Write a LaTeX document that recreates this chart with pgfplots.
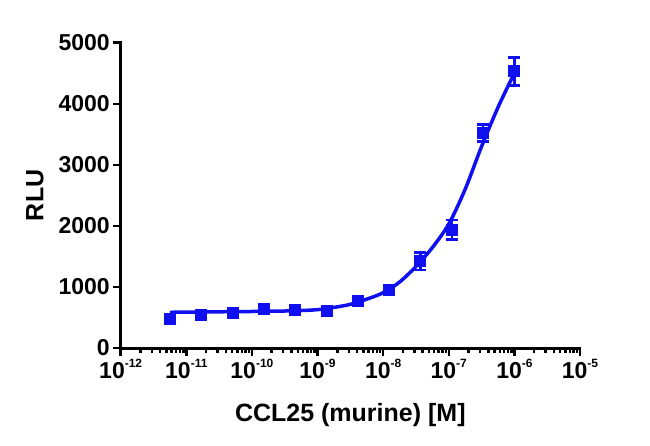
\documentclass[border=0pt]{standalone}
\usepackage{pgfplots}
\pgfplotsset{compat=1.18}
\usepackage{fontspec}
\setmainfont{Liberation Sans}
\definecolor{pblue}{RGB}{15,15,240}
\newcommand\sps[1]{\raisebox{0.48em}{\fontsize{12}{12}\selectfont\bfseries #1}}
\begin{document}
\begin{tikzpicture}[x=1pt,y=1pt]
\useasboundingbox (-120.7,-97) rectangle (529.3,348);
\begin{axis}[
  at={(0,0)}, anchor=south west,
  scale only axis, width=459.3pt, height=305.3pt,
  xmode=log, xmin=1e-12, xmax=1e-5, ymin=0, ymax=5000,
  axis x line*=bottom, axis y line*=left,
  x axis line style={-}, y axis line style={-},
  axis line style={line width=3pt, black, line cap=rect},
  tick align=outside,
  major tick length=7.5pt, minor tick length=4.5pt,
  tick style={line width=2.5pt, black},
  xtick={1e-12,1e-11,1e-10,1e-9,1e-8,1e-7,1e-6,1e-5},
  xticklabels={10\sps{-12},10\sps{-11},10\sps{-10},10\sps{-9},10\sps{-8},10\sps{-7},10\sps{-6},10\sps{-5}},
  minor xtick={2e-12,3e-12,4e-12,5e-12,6e-12,7e-12,8e-12,9e-12,
               2e-11,3e-11,4e-11,5e-11,6e-11,7e-11,8e-11,9e-11,
               2e-10,3e-10,4e-10,5e-10,6e-10,7e-10,8e-10,9e-10,
               2e-9,3e-9,4e-9,5e-9,6e-9,7e-9,8e-9,9e-9,
               2e-8,3e-8,4e-8,5e-8,6e-8,7e-8,8e-8,9e-8,
               2e-7,3e-7,4e-7,5e-7,6e-7,7e-7,8e-7,9e-7,
               2e-6,3e-6,4e-6,5e-6,6e-6,7e-6,8e-6,9e-6},
  ytick={0,1000,2000,3000,4000,5000},
  yticklabels={0,1000,2000,3000,4000,5000},
  tick label style={font=\fontsize{23}{23}\selectfont\bfseries},
  xlabel={CCL25 (murine) [M]},
  ylabel={RLU},
  label style={font=\fontsize{25}{25}\selectfont\bfseries},
  xlabel style={at={(axis description cs:0.5,-0.2414)}, anchor=base},
  ylabel style={at={(axis description cs:-0.1685,0.5)}, anchor=base, rotate=0},
  clip=false,
]
\addplot[pblue, line width=3.5pt, smooth, tension=0.5, no markers] coordinates {
  (5.623e-12,585) (1e-11,588) (3.162e-11,593) (1e-10,598) (3.162e-10,606)
  (5.623e-10,614) (1e-9,628) (1.778e-9,665) (3.162e-9,715) (5.623e-9,800)
  (1e-8,905) (1.778e-8,1080) (3.162e-8,1335) (5.623e-8,1645) (1e-7,2030)
  (1.778e-7,2600) (3.162e-7,3300) (5.623e-7,3940) (1e-6,4503)
};
\addplot[pblue, only marks, mark=square*, mark size=5.5pt,
  mark options={line width=1pt, draw=pblue, fill=pblue},
  error bars/.cd, y dir=both, y explicit,
  error bar style={line width=2.5pt, pblue},
  error mark options={rotate=90, mark size=6pt, line width=2.5pt, pblue}]
  coordinates {
  (5.645e-12,475) +- (0,40)
  (1.694e-11,541) +- (0,40)
  (5.081e-11,569) +- (0,40)
  (1.524e-10,644) +- (0,40)
  (4.572e-10,628) +- (0,40)
  (1.372e-9,611) +- (0,40)
  (4.115e-9,775) +- (0,50)
  (1.235e-8,951) +- (0,60)
  (3.704e-8,1421) +- (0,140)
  (1.111e-7,1934) +- (0,160)
  (3.333e-7,3520) +- (0,140)
  (1e-6,4530) +- (0,230)
};
\end{axis}
\end{tikzpicture}
\end{document}
